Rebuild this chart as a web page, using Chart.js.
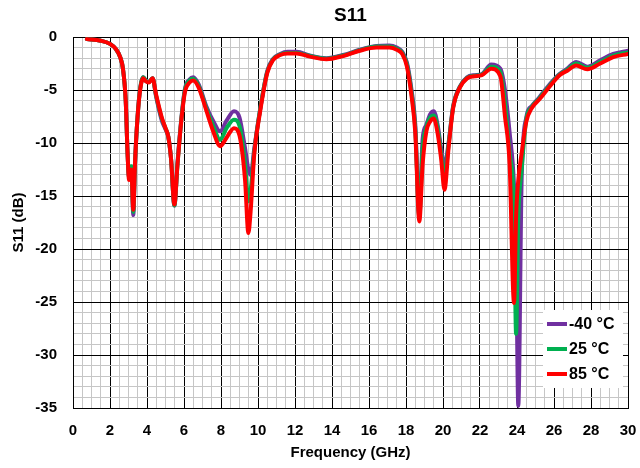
<!DOCTYPE html>
<html><head><meta charset="utf-8">
<script src="https://cdn.jsdelivr.net/npm/chart.js@4/dist/chart.umd.min.js"></script>
<style>html,body{margin:0;padding:0;background:#fff}#wrap{width:640px;height:468px}</style>
</head><body><div id="wrap"><canvas id="c" width="640" height="468"></canvas></div>
<script>
const freqGHz = [0.75,1.5,2.0,2.3,2.55,2.7,2.85,2.95,3.03,3.1,
  3.15,3.26,3.35,3.45,3.6,3.8,3.95,4.1,4.3,4.5,
  4.8,5.0,5.15,5.3,5.48,5.65,5.85,6.05,6.3,6.5,
  6.8,7.2,7.6,7.95,8.3,8.7,9.0,9.3,9.48,9.6,
  9.8,10.1,10.5,10.8,11.2,11.6,12.1,12.8,13.7,14.6,
  15.5,16.4,17.1,17.5,17.8,18.05,18.3,18.5,18.72,18.9,
  19.1,19.3,19.5,19.7,19.9,20.08,20.3,20.55,20.9,21.3,
  21.7,22.1,22.6,23.1,23.35,23.6,23.84,23.95,24.07,24.25,
  24.5,24.8,25.2,25.8,26.3,26.7,27.2,27.8,28.5,29.2,30];

const s11Minus40C = [-0.2,-0.35,-0.65,-1.1,-1.9,-3.0,-6.0,-11.0,-13.2,-12.3,
  -12.3,-16.8,-12.0,-8.6,-5.3,-3.8,-4.15,-4.25,-3.9,-5.7,
  -7.9,-8.7,-9.4,-11.5,-15.9,-11.8,-7.8,-4.9,-4.0,-3.8,
  -4.5,-6.5,-8.0,-8.9,-7.9,-7.0,-7.6,-10.5,-12.5,-13.0,
  -10.5,-7.0,-3.2,-2.1,-1.6,-1.4,-1.4,-1.75,-2.0,-1.7,
  -1.2,-0.85,-0.8,-1.0,-1.4,-2.4,-5.0,-8.2,-16.8,-9.6,
  -8.3,-7.3,-7.0,-8.2,-10.5,-12.2,-10.0,-6.5,-4.7,-3.8,
  -3.6,-3.5,-2.6,-3.0,-5.0,-9.0,-14.0,-20.0,-34.8,-13.5,
  -7.6,-6.5,-5.7,-4.4,-3.5,-3.0,-2.35,-2.8,-2.2,-1.6,-1.3];

const s11At25C = [-0.2,-0.35,-0.65,-1.1,-1.9,-3.0,-6.0,-11.0,-13.2,-12.3,
  -12.2,-16.5,-12.0,-8.6,-5.3,-3.8,-4.15,-4.25,-3.9,-5.6,
  -7.7,-8.6,-9.4,-11.5,-15.9,-12.0,-7.9,-5.0,-4.1,-3.95,
  -4.65,-6.7,-8.5,-9.7,-8.6,-7.8,-8.4,-12.0,-15.5,-14.5,
  -10.8,-7.0,-3.3,-2.15,-1.65,-1.5,-1.5,-1.8,-2.05,-1.75,
  -1.25,-0.9,-0.9,-1.1,-1.5,-2.6,-5.3,-8.6,-17.0,-10.5,
  -8.5,-7.6,-7.4,-8.5,-11.0,-13.2,-10.2,-6.6,-4.75,-3.85,
  -3.65,-3.55,-2.8,-3.3,-6.2,-11.0,-16.0,-28.0,-17.0,-12.5,
  -7.8,-6.6,-5.8,-4.5,-3.55,-3.1,-2.5,-2.9,-2.35,-1.75,-1.45];

const s11At85C = [-0.2,-0.35,-0.65,-1.1,-1.9,-3.0,-6.0,-11.0,-13.5,-12.6,
  -12.5,-16.3,-12.0,-8.6,-5.4,-3.9,-4.2,-4.3,-3.9,-5.5,
  -7.6,-8.6,-9.4,-11.5,-15.8,-12.0,-8.0,-5.2,-4.3,-4.1,
  -4.8,-6.9,-9.0,-10.3,-9.5,-8.6,-9.3,-13.5,-18.5,-16.5,
  -11.0,-7.2,-3.4,-2.2,-1.7,-1.55,-1.55,-1.85,-2.1,-1.8,
  -1.3,-1.0,-1.0,-1.2,-1.6,-2.8,-5.6,-9.0,-17.4,-12.0,
  -8.9,-8.0,-7.7,-9.0,-11.5,-14.4,-10.5,-6.7,-4.8,-3.9,
  -3.7,-3.6,-3.0,-3.7,-7.5,-12.0,-25.1,-17.0,-13.5,-11.0,
  -8.0,-6.7,-5.9,-4.6,-3.6,-3.2,-2.7,-3.05,-2.5,-1.9,-1.6];

const seriesLabels = ['-40 °C', '25 °C', '85 °C'];
const xTickLabels = [0,2,4,6,8,10,12,14,16,18,20,22,24,26,28,30];
const yTickLabels = [0,-5,-10,-15,-20,-25,-30,-35];

const FONT = '"Liberation Sans", Arial, Helvetica, sans-serif';
const near = (v, list) => list.some(t => Math.abs(t - v) < 1e-6);
const pts = vals => freqGHz.map((f, i) => ({x: f, y: vals[i]}));

const insideLegend = {
  id: 'insideLegend',
  afterDatasetsDraw(chart) {
    const {ctx, chartArea: a} = chart;
    const x0 = a.right - 85, y0 = a.bottom - 98, w = 80, h = 78;
    ctx.save();
    ctx.fillStyle = '#fff';
    ctx.fillRect(x0, y0, w, h);
    ctx.font = 'bold 16px ' + FONT;
    ctx.textBaseline = 'middle';
    ctx.textAlign = 'left';
    chart.data.datasets.forEach((ds, i) => {
      const y = y0 + 14 + i * 25;
      ctx.strokeStyle = ds.borderColor;
      ctx.lineWidth = 4;
      ctx.beginPath(); ctx.moveTo(x0 + 4, y); ctx.lineTo(x0 + 24, y); ctx.stroke();
      ctx.fillStyle = '#000';
      ctx.fillText(ds.label, x0 + 26, y + 1);
    });
    ctx.restore();
  }
};

const mk = (label, vals, color, order) => ({
  label, data: pts(vals), borderColor: color, backgroundColor: color,
  borderWidth: 4, pointRadius: 0, cubicInterpolationMode: 'monotone',
  borderJoinStyle: 'round', borderCapStyle: 'round', fill: false, order
});

new Chart(document.getElementById('c'), {
  type: 'line',
  data: {
    datasets: [
      mk(seriesLabels[0], s11Minus40C, '#7030A0', 2),
      mk(seriesLabels[1], s11At25C, '#00B050', 1),
      mk(seriesLabels[2], s11At85C, '#FF0000', 0)
    ]
  },
  options: {
    responsive: false, animation: false, devicePixelRatio: 1,
    layout: {padding: {left: 0, right: 12, top: 0, bottom: 0}},
    plugins: {
      legend: {display: false},
      tooltip: {enabled: false},
      title: {display: true, text: 'S11', fullSize: false, color: '#000',
        font: {family: FONT, size: 19, weight: 'bold'}, padding: {top: 4, bottom: 10.2}}
    },
    scales: {
      x: {
        type: 'linear', min: 0, max: 30,
        afterFit: s => { s.height = 60; s.paddingLeft = 0; s.paddingRight = 0; },
        ticks: {stepSize: 0.5, autoSkip: false, maxRotation: 0, minRotation: 0, padding: 14, color: '#000',
          font: {family: FONT, size: 15, weight: 'bold'},
          callback: v => near(v, xTickLabels) ? String(Math.round(v)) : ''},
        grid: {color: c => (c.tick && near(c.tick.value, xTickLabels)) ? '#000' : '#c6c6c6', lineWidth: 1, drawTicks: false},
        border: {display: true, color: '#000', width: 1},
        title: {display: true, text: 'Frequency (GHz)', color: '#000',
          font: {family: FONT, size: 15, weight: 'bold'}, padding: {top: 0, bottom: 6}}
      },
      y: {
        type: 'linear', min: -35, max: 0,
        afterFit: s => { s.width = 73; s.paddingTop = 0; s.paddingBottom = 0; },
        ticks: {stepSize: 1, autoSkip: false, padding: 16, color: '#000',
          font: {family: FONT, size: 15, weight: 'bold'},
          callback: v => near(v, yTickLabels) ? String(Math.round(v)) : ''},
        grid: {color: c => (c.tick && near(c.tick.value, yTickLabels)) ? '#000' : '#c6c6c6', lineWidth: 1, drawTicks: false},
        border: {display: true, color: '#000', width: 1},
        title: {display: true, text: 'S11 (dB)', color: '#000',
          font: {family: FONT, size: 15, weight: 'bold'}, padding: {top: 10, bottom: 0}}
      }
    }
  },
  plugins: [insideLegend]
});
</script>
</body></html>
